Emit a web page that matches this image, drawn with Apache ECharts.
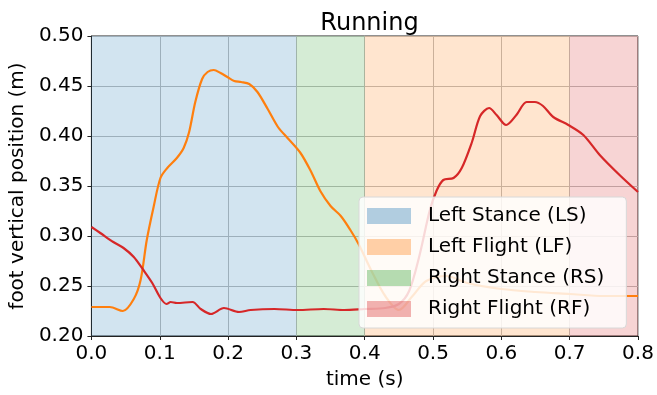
<!DOCTYPE html>
<html>
<head>
<meta charset="utf-8">
<script src="https://cdn.jsdelivr.net/npm/echarts@6/dist/echarts.min.js"></script>
<style>html,body{margin:0;padding:0;background:#fff}#c{width:657px;height:395px}</style>
</head>
<body>
<div id="c"></div>
<script>
const bandNames = ['Left Stance (LS)', 'Left Flight (LF)', 'Right Stance (RS)', 'Right Flight (RF)'];
const bandStart = [0.0, 0.4, 0.3, 0.7];
const bandEnd = [0.3, 0.7, 0.4, 0.8];
const bandRGB = ['31,119,180', '255,127,14', '44,160,44', '214,39,40'];

const timeOrange = [0, 0.027, 0.046, 0.062, 0.072, 0.081, 0.091, 0.101, 0.111, 0.125, 0.135, 0.143, 0.152, 0.162, 0.170, 0.179, 0.189, 0.199, 0.209, 0.219, 0.231, 0.243, 0.258, 0.273, 0.287, 0.306, 0.321, 0.335, 0.350, 0.365, 0.379, 0.391, 0.41, 0.43, 0.45, 0.47, 0.49, 0.52, 0.55, 0.60, 0.65, 0.70, 0.75, 0.80];
const orangeY = [0.229, 0.229, 0.225, 0.237, 0.256, 0.296, 0.329, 0.358, 0.368, 0.378, 0.388, 0.404, 0.434, 0.457, 0.464, 0.466, 0.463, 0.459, 0.455, 0.454, 0.452, 0.444, 0.427, 0.409, 0.398, 0.383, 0.365, 0.345, 0.330, 0.320, 0.306, 0.292, 0.265, 0.240, 0.226, 0.240, 0.255, 0.260, 0.253, 0.247, 0.244, 0.242, 0.240, 0.240];

const timeRed = [0, 0.013, 0.032, 0.047, 0.062, 0.076, 0.089, 0.101, 0.110, 0.116, 0.125, 0.148, 0.160, 0.175, 0.194, 0.216, 0.233, 0.268, 0.302, 0.34, 0.37, 0.40, 0.43, 0.45, 0.465, 0.48, 0.495, 0.505, 0.515, 0.530, 0.542, 0.557, 0.569, 0.582, 0.593, 0.607, 0.622, 0.637, 0.649, 0.661, 0.676, 0.698, 0.720, 0.744, 0.773, 0.800];
const redY = [0.309, 0.303, 0.294, 0.288, 0.279, 0.266, 0.253, 0.238, 0.232, 0.234, 0.233, 0.234, 0.227, 0.222, 0.228, 0.224, 0.226, 0.227, 0.226, 0.227, 0.226, 0.227, 0.228, 0.232, 0.245, 0.280, 0.325, 0.345, 0.356, 0.358, 0.368, 0.394, 0.420, 0.428, 0.421, 0.411, 0.421, 0.434, 0.434, 0.430, 0.419, 0.411, 0.401, 0.381, 0.361, 0.344];

const xTicks = [0, 0.1, 0.2, 0.3, 0.4, 0.5, 0.6, 0.7, 0.8];
const yTicks = [0.20, 0.25, 0.30, 0.35, 0.40, 0.45, 0.50];

const FONT = 'DejaVu Sans';
const chart = echarts.init(document.getElementById('c'), null, {renderer: 'canvas'});

const bandSeries = bandNames.map((n, i) => ({
  name: n,
  type: 'line',
  data: [],
  silent: true,
  itemStyle: {color: 'rgba(' + bandRGB[i] + ',0.35)'},
  markArea: {
    silent: true,
    itemStyle: {color: 'rgba(' + bandRGB[i] + ',0.2)'},
    data: [[{xAxis: bandStart[i]}, {xAxis: bandEnd[i]}]]
  }
}));

chart.setOption({
  animation: false,
  backgroundColor: '#fff',
  title: {
    text: 'Running', left: 364.5, top: 7, textAlign: 'center',
    textStyle: {fontFamily: FONT, fontSize: 24, fontWeight: 'normal', color: '#000'}
  },
  grid: {left: 91, right: 19, top: 36, bottom: 54, show: true, borderColor: '#222', borderWidth: 1, backgroundColor: 'transparent'},
  legend: {
    orient: 'vertical', left: 359, top: 197,
    data: bandNames.map((n, i) => ({name: n, icon: 'rect', itemStyle: {color: 'rgba(' + bandRGB[i] + ',0.35)'}})),
    itemWidth: 44, itemHeight: 16, itemGap: 11,
    padding: [9, 22, 9, 8],
    backgroundColor: 'rgba(255,255,255,0.82)',
    borderColor: '#d8d8d8', borderWidth: 1, borderRadius: 4,
    selectedMode: false,
    textStyle: {fontFamily: FONT, fontSize: 20, color: '#000', lineHeight: 20, padding: [0, 0, 0, 12]}
  },
  xAxis: {
    type: 'value', min: 0, max: 0.8, interval: 0.1,
    name: 'time (s)', nameLocation: 'middle', nameGap: 34,
    nameTextStyle: {fontFamily: FONT, fontSize: 20, color: '#000'},
    axisLine: {show: true, lineStyle: {color: '#222', width: 1}},
    axisTick: {show: true, inside: false, length: 4, lineStyle: {color: '#222'}},
    axisLabel: {fontFamily: FONT, fontSize: 20, color: '#000', margin: 8, formatter: v => v.toFixed(1)},
    splitLine: {show: true, lineStyle: {color: '#bdbdbd', width: 1}}
  },
  yAxis: {
    type: 'value', min: 0.2, max: 0.5, interval: 0.05,
    name: 'foot vertical position (m)', nameLocation: 'middle', nameGap: 62, nameRotate: 90,
    nameTextStyle: {fontFamily: FONT, fontSize: 20, color: '#000'},
    axisLine: {show: true, lineStyle: {color: '#222', width: 1}},
    axisTick: {show: true, inside: false, length: 4, lineStyle: {color: '#222'}},
    axisLabel: {fontFamily: FONT, fontSize: 20, color: '#000', margin: 8, formatter: v => v.toFixed(2)},
    splitLine: {show: true, lineStyle: {color: '#bdbdbd', width: 1}}
  },
  series: bandSeries.concat([
    {
      name: 'left foot', type: 'line', showSymbol: false, smooth: 0.3, silent: true,
      data: timeOrange.map((t, i) => [t, orangeY[i]]),
      lineStyle: {color: '#ff7f0e', width: 2.2}, itemStyle: {color: '#ff7f0e'}, z: 3
    },
    {
      name: 'right foot', type: 'line', showSymbol: false, smooth: 0.3, silent: true,
      data: timeRed.map((t, i) => [t, redY[i]]),
      lineStyle: {color: '#d62728', width: 2.2}, itemStyle: {color: '#d62728'}, z: 3
    }
  ])
});
</script>
</body>
</html>
